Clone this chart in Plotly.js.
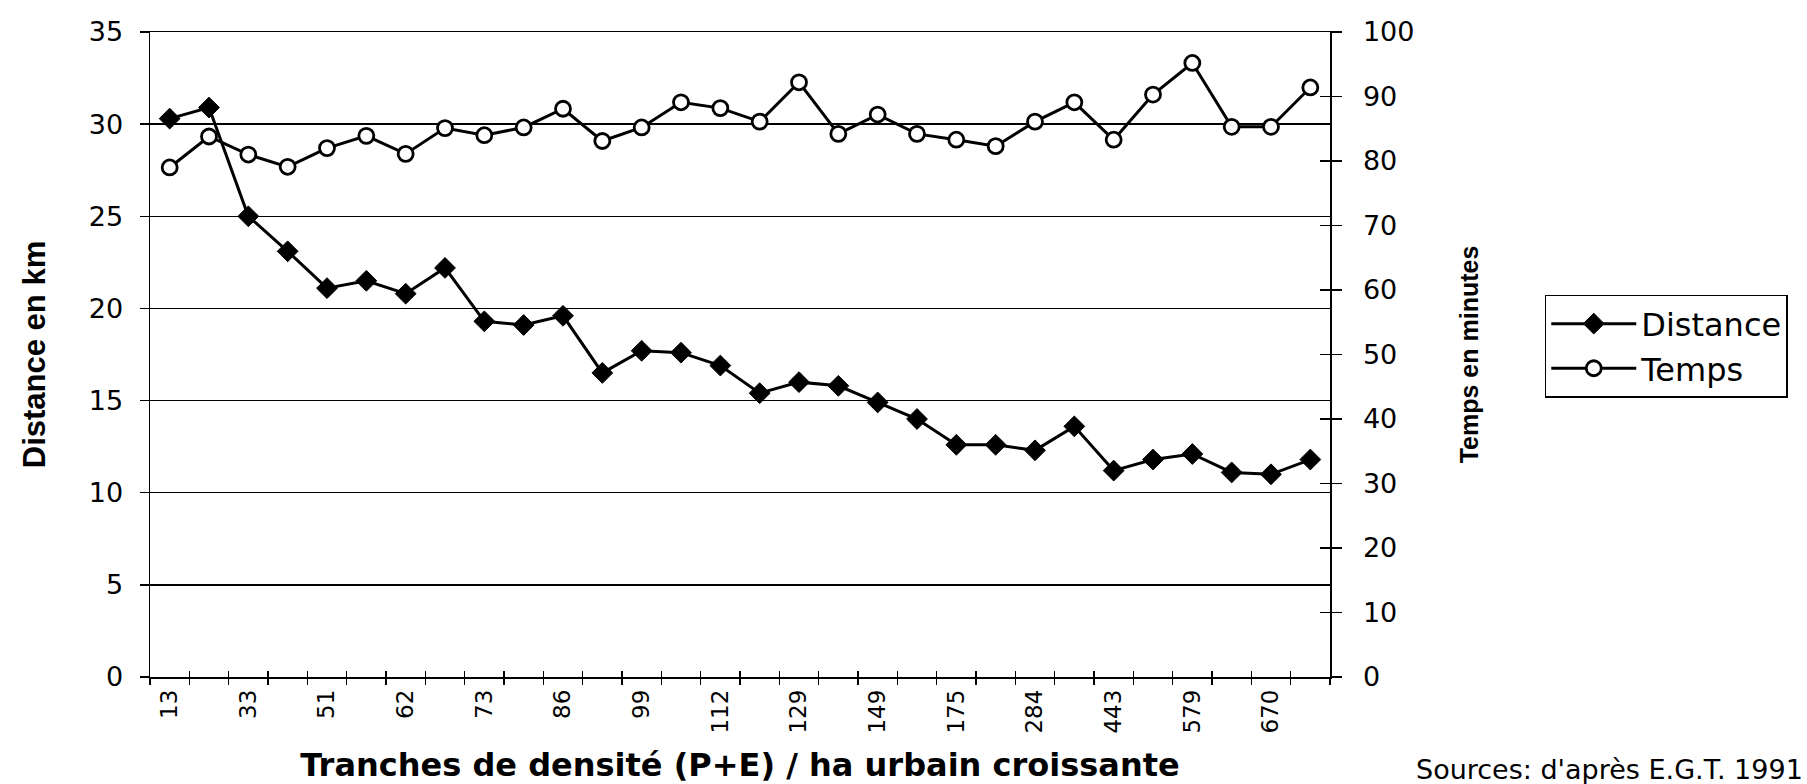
<!DOCTYPE html>
<html><head><meta charset="utf-8">
<script src="https://cdn.plot.ly/plotly-3.0.1.min.js"></script>
<style>html,body{margin:0;padding:0;background:#fff;}#chart{width:1807px;height:784px;}</style>
</head><body><div id="chart"></div>
<script>
// Tick labels shown on every other density class
const densityLabels = ["13","33","51","62","73","86","99","112","129","149","175","284","443","579","670"];
// Distance en km (left axis)
const distanceKm = [30.3,30.9,25.0,23.1,21.1,21.5,20.8,22.2,19.3,19.1,19.6,16.5,17.7,17.6,16.9,15.4,16.0,15.8,14.9,14.0,12.6,12.6,12.3,13.6,11.2,11.8,12.1,11.1,11.0,11.8];
// Temps en minutes (right axis)
const tempsMin = [79.0,83.8,81.0,79.1,82.0,83.9,81.1,85.1,84.0,85.2,88.1,83.1,85.2,89.1,88.2,86.1,92.2,84.2,87.2,84.2,83.3,82.3,86.1,89.1,83.3,90.3,95.2,85.3,85.3,91.4];

const classIndex = distanceKm.map((_, i) => i);
const labelPos = densityLabels.map((_, i) => 2 * i);
const FONT = "Liberation Sans, Arial, sans-serif";
const WIDE = "DejaVu Sans, Liberation Sans, sans-serif";
const xr = [-0.5, distanceKm.length - 0.5];

const traces = [
  {
    name: "Distance", x: classIndex, y: distanceKm, xaxis: "x", yaxis: "y",
    type: "scatter", mode: "lines+markers",
    line: {color: "#000", width: 3},
    marker: {symbol: "diamond", size: 16, color: "#000", line: {color: "#000", width: 1}}
  },
  {
    name: "Temps", x: classIndex, y: tempsMin, xaxis: "x2", yaxis: "y2",
    type: "scatter", mode: "lines+markers",
    line: {color: "#000", width: 3},
    marker: {symbol: "circle", size: 15, color: "#fff", line: {color: "#000", width: 2.8}}
  },
  { x: [], y: [], xaxis: "x", yaxis: "y3", type: "scatter", showlegend: false, hoverinfo: "skip" }
];

const layout = {
  width: 1807, height: 784,
  margin: {l: 150, r: 477, t: 32, b: 107},
  paper_bgcolor: "#fff", plot_bgcolor: "#fff",
  font: {family: WIDE, color: "#000", size: 22},
  showlegend: true,
  xaxis: {
    range: xr, tickmode: "array", tickvals: labelPos, ticktext: densityLabels,
    tickangle: -90, ticks: "", ticklen: 0, ticklabelstandoff: 2,
    tickfont: {family: WIDE, size: 23, color: "#000"},
    showgrid: false, zeroline: false,
    showline: true, linecolor: "#000", linewidth: 1.5, mirror: true,
    minor: {tickmode: "linear", tick0: -0.5, dtick: 1, ticks: "outside", ticklen: 6, tickcolor: "#000", tickwidth: 1.5, showgrid: false},
    title: {text: "<b>Tranches de densité (P+E) / ha urbain croissante</b>", font: {family: "DejaVu Sans, sans-serif", size: 32, color: "#000"}, standoff: 28},
    automargin: false
  },
  xaxis2: {
    range: xr, overlaying: "x", anchor: "y2", side: "bottom",
    tickmode: "linear", tick0: -0.5, dtick: 1, ticks: "inside", ticklen: 6, tickcolor: "#000", tickwidth: 1.5,
    showticklabels: false, showgrid: false, zeroline: false, showline: false
  },
  yaxis: {
    range: [0, 35], dtick: 5, tick0: 0,
    ticks: "outside", ticklen: 9, tickcolor: "#000", tickwidth: 1.5, ticklabelstandoff: 11,
    tickfont: {family: WIDE, size: 27, color: "#000"},
    showgrid: true, gridcolor: "#000", gridwidth: 1.5, zeroline: false,
    showline: true, linecolor: "#000", linewidth: 1.5,
    title: {text: "<b>Distance en km</b>", font: {family: FONT, size: 31, color: "#000"}, standoff: 34},
    automargin: false
  },
  yaxis2: {
    range: [0, 100], dtick: 10, tick0: 0, overlaying: "y", side: "right", anchor: "x",
    ticks: "outside", ticklen: 10, tickcolor: "#000", tickwidth: 1.5, ticklabelstandoff: 16,
    tickfont: {family: WIDE, size: 27, color: "#000"},
    showgrid: false, zeroline: false,
    showline: true, linecolor: "#000", linewidth: 1.5,
    title: {text: "<b>Temps en minutes</b>", font: {family: FONT, size: 25, color: "#000"}, standoff: 47},
    automargin: false
  },
  yaxis3: {
    range: [0, 100], dtick: 10, tick0: 0, overlaying: "y", side: "right", anchor: "x",
    ticks: "inside", ticklen: 10, tickcolor: "#000", tickwidth: 1.5,
    showticklabels: false, showgrid: false, zeroline: false, showline: false
  },
  legend: {
    x: 1.182, y: 0.5925, xanchor: "left", yanchor: "top",
    bgcolor: "#fff", bordercolor: "#000", borderwidth: 1.5,
    font: {family: WIDE, size: 32, color: "#000"},
    itemwidth: 85, tracegroupgap: 0
  },
  annotations: [
    {text: "Sources: d'après E.G.T. 1991", xref: "paper", yref: "paper", x: 1.4025, y: -0.144,
     xanchor: "right", yanchor: "middle", showarrow: false, font: {family: WIDE, size: 27, color: "#000"}}
  ]
};

Plotly.newPlot("chart", traces, layout, {displayModeBar: false, staticPlot: true});
</script>
</body></html>
